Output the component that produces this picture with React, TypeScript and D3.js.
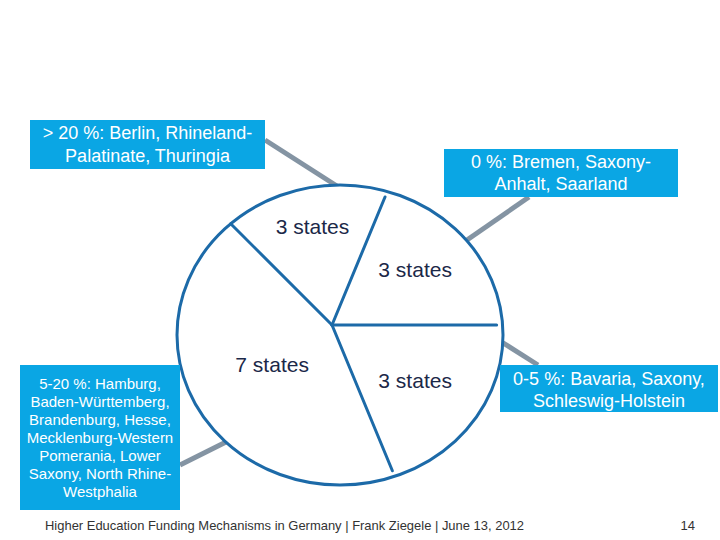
import React from "react";
import * as d3 from "d3";

// Data
const sliceLabels = ["3 states", "3 states", "3 states", "7 states"];
const sliceValues = [3, 3, 3, 7];

const calloutTexts: string[][] = [
  ["> 20 %: Berlin, Rhineland-", "Palatinate, Thuringia"],
  ["0 %: Bremen, Saxony-", "Anhalt, Saarland"],
  ["0-5 %: Bavaria, Saxony,", "Schleswig-Holstein"],
  [
    "5-20 %: Hamburg,",
    "Baden-Württemberg,",
    "Brandenburg, Hesse,",
    "Mecklenburg-Western",
    "Pomerania, Lower",
    "Saxony, North Rhine-",
    "Westphalia",
  ],
];

const footerText = "Higher Education Funding Mechanisms in Germany | Frank Ziegele | June 13, 2012";
const pageNumber = "14";

// Layout
const W = 720;
const H = 540;
const FONT = "'Liberation Sans', Arial, Helvetica, sans-serif";
const hub = { x: 332, y: 325 };
const ell = { cx: 340, cy: 335, rx: 163, ry: 150 };
const PIE_BLUE = "#1c6aa8";
const BOX_BLUE = "#0aa6e4";
const CONNECTOR = "#8494a3";
const LABEL_COLOR = "#1b2848";

const boxes = [
  { x: 30, y: 120, w: 235, h: 49, fs: 18, lh: 23, first: 139 },
  { x: 444, y: 149, w: 234, h: 48, fs: 18, lh: 22, first: 168 },
  { x: 500, y: 365, w: 218, h: 47, fs: 18, lh: 22, first: 385 },
  { x: 20, y: 365, w: 160, h: 145, fs: 15, lh: 18, first: 389 },
];

const connectors = [
  [265, 140, 340, 188],
  [529, 197, 467, 240],
  [538, 365, 500, 341],
  [180, 465, 226, 442],
];

function rayToEllipse(angle: number, inset: number) {
  const ux = Math.sin(angle);
  const uy = -Math.cos(angle);
  const dx = hub.x - ell.cx;
  const dy = hub.y - ell.cy;
  const a = (ux * ux) / (ell.rx * ell.rx) + (uy * uy) / (ell.ry * ell.ry);
  const b = 2 * ((dx * ux) / (ell.rx * ell.rx) + (dy * uy) / (ell.ry * ell.ry));
  const c = (dx * dx) / (ell.rx * ell.rx) + (dy * dy) / (ell.ry * ell.ry) - 1;
  const t = (-b + Math.sqrt(b * b - 4 * a * c)) / (2 * a);
  const tt = t - inset;
  return { x: hub.x + ux * tt, y: hub.y + uy * tt };
}

export default function App() {
  const start = (-45 * Math.PI) / 180;
  const pie = d3
    .pie<number>()
    .value((d) => d)
    .sort(null)
    .startAngle(start)
    .endAngle(start + 2 * Math.PI);
  const arcs = pie(sliceValues);

  return (
    <svg
      width={W}
      height={H}
      viewBox={`0 0 ${W} ${H}`}
      style={{ position: "absolute", left: 0, top: 0, background: "#fff" }}
    >
      <rect x={0} y={0} width={W} height={H} fill="#fff" />
      {connectors.map((c, i) => (
        <line
          key={"c" + i}
          x1={c[0]}
          y1={c[1]}
          x2={c[2]}
          y2={c[3]}
          stroke={CONNECTOR}
          strokeWidth={5}
        />
      ))}
      <ellipse
        cx={ell.cx}
        cy={ell.cy}
        rx={ell.rx}
        ry={ell.ry}
        fill="#fff"
        stroke={PIE_BLUE}
        strokeWidth={3}
      />
      {arcs.map((a, i) => {
        const p = rayToEllipse(a.startAngle, i === 0 ? 0 : 6);
        return (
          <line
            key={"s" + i}
            x1={hub.x}
            y1={hub.y}
            x2={p.x}
            y2={p.y}
            stroke={PIE_BLUE}
            strokeWidth={3}
            strokeLinecap="round"
          />
        );
      })}
      {arcs.map((a, i) => {
        const mid = (a.startAngle + a.endAngle) / 2;
        const r = a.data > 5 ? 72 : 100;
        const x = hub.x + Math.sin(mid) * r;
        const y = hub.y - Math.cos(mid) * r;
        return (
          <text
            key={"l" + i}
            x={x}
            y={y}
            dy="0.35em"
            textAnchor="middle"
            fontFamily={FONT}
            fontSize={21}
            fill={LABEL_COLOR}
          >
            {sliceLabels[i]}
          </text>
        );
      })}
      {boxes.map((b, i) => (
        <g key={"b" + i}>
          <rect x={b.x} y={b.y} width={b.w} height={b.h} fill={BOX_BLUE} />
          {calloutTexts[i].map((line, j) => (
            <text
              key={j}
              x={b.x + b.w / 2}
              y={b.first + j * b.lh}
              textAnchor="middle"
              fontFamily={FONT}
              fontSize={b.fs}
              fill="#fff"
            >
              {line}
            </text>
          ))}
        </g>
      ))}
      <text
        x={45}
        y={530}
        fontFamily={FONT}
        fontSize={13}
        fill="#333"
        textLength={479}
        lengthAdjust="spacingAndGlyphs"
      >
        {footerText}
      </text>
      <text x={695} y={530} textAnchor="end" fontFamily={FONT} fontSize={13} fill="#333">
        {pageNumber}
      </text>
    </svg>
  );
}
